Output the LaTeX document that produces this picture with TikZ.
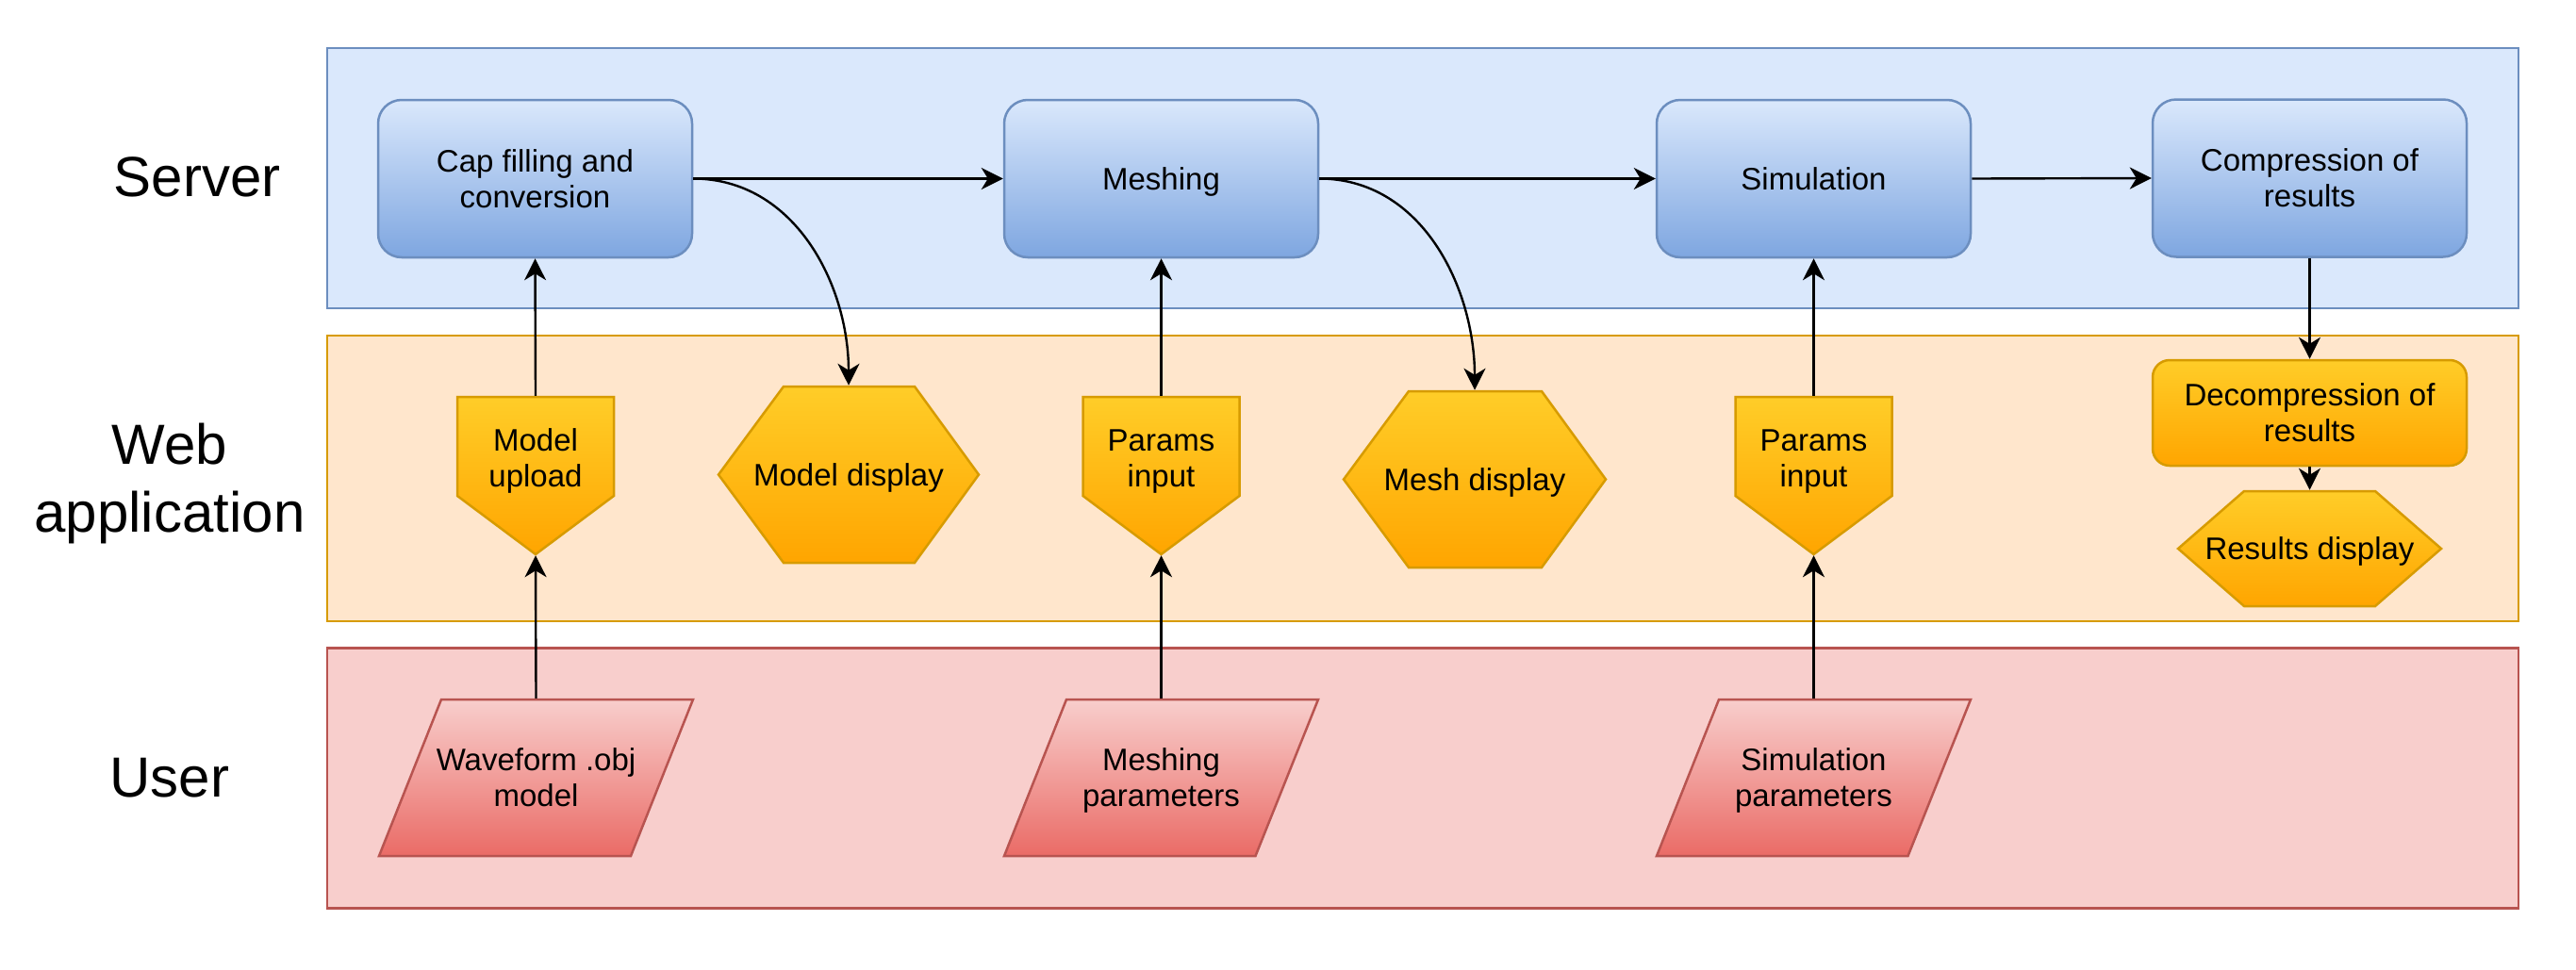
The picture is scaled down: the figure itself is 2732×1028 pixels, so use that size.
\documentclass[tikz,border=0pt]{standalone}
\usepackage{fontspec}
\setmainfont{Liberation Sans}
\usetikzlibrary{arrows.meta,calc}
\definecolor{srvfill}{HTML}{DAE8FC}
\definecolor{srvline}{HTML}{6C8EBF}
\definecolor{webfill}{HTML}{FFE6CC}
\definecolor{webline}{HTML}{D79B00}
\definecolor{usrfill}{HTML}{F8CECC}
\definecolor{usrline}{HTML}{B85450}
\definecolor{bluetop}{HTML}{DAE8FC}
\definecolor{bluebot}{HTML}{7EA6E0}
\definecolor{orgtop}{HTML}{FFCD28}
\definecolor{orgbot}{HTML}{FFA500}
\definecolor{redtop}{HTML}{F8CECC}
\definecolor{redbot}{HTML}{EA6B66}
\newcommand\zdp[1]{\raisebox{0pt}[\height][0pt]{#1}}
\begin{document}
\begin{tikzpicture}[x=1pt,y=-1pt,
  lanebox/.style={rectangle, line width=2.5pt, inner sep=0pt, minimum width=2324pt, minimum height=276pt},
  lanelabel/.style={font=\fontsize{60}{72}\selectfont, align=center, inner sep=0pt},
  txt/.style={font=\fontsize{33}{38}\selectfont, align=center, inner sep=0pt, text=black},
  srvbox/.style={txt, rectangle, rounded corners=25pt, draw=srvline, line width=2.5pt,
    top color=bluetop, bottom color=bluebot, minimum width=333pt, minimum height=167pt},
  orgbox/.style={txt, rectangle, rounded corners=18pt, draw=webline, line width=2.5pt,
    top color=orgtop, bottom color=orgbot, minimum width=333pt, minimum height=112pt},
  orgshape/.style={draw=webline, line width=2.5pt, top color=orgtop, bottom color=orgbot, line join=miter},
  redshape/.style={draw=usrline, line width=2.5pt, top color=redtop, bottom color=redbot, line join=miter},
  bbox/.style={txt, rectangle, draw=none, outer sep=1.25pt},
  conn/.style={draw=black, line width=2.4pt, -{Stealth[length=23pt,width=23pt,inset=7pt]}}
]
\useasboundingbox (0,0) rectangle (2732,1028);

% lanes
\node[lanebox, draw=srvline, fill=srvfill] (server) at (1509,189) {};
\node[lanebox, draw=webline, fill=webfill, minimum height=303pt] (web) at (1509,507.5) {};
\node[lanebox, draw=usrline, fill=usrfill] (user) at (1509,825.5) {};

% lane labels
\node[lanelabel] (lserver) at (209,188) {Server};
\node[lanelabel] (lweb) at (180,513) {Web\\application};
\node[lanelabel] (luser) at (180,825) {User};

% server boxes
\node[srvbox] (cap) at (567.5,189.5) {Cap filling and\\conversion};
\node[srvbox] (mesh) at (1231.5,189.5) {\zdp{Meshing}};
\node[srvbox] (sim) at (1923.5,189.5) {Simulation};
\node[srvbox] (comp) at (2449.5,189) {Compression of\\results};

% web application shapes
\shade[orgshape] (485,421) -- (651,421) -- (651,526) -- (568,588) -- (485,526) -- cycle;
\node[bbox, minimum width=166pt, minimum height=167pt] (upl) at (568,504.5) {};
\node[txt] (uplt) at (568,486) {Model\\\zdp{upload}};

\shade[orgshape] (1148.5,421) -- (1314.5,421) -- (1314.5,526) -- (1231.5,588) -- (1148.5,526) -- cycle;
\node[bbox, minimum width=166pt, minimum height=167pt] (pin1) at (1231.5,504.5) {};
\node[txt] (pin1t) at (1231.5,486) {Params\\\zdp{input}};

\shade[orgshape] (1840.5,421) -- (2006.5,421) -- (2006.5,526) -- (1923.5,588) -- (1840.5,526) -- cycle;
\node[bbox, minimum width=166pt, minimum height=167pt] (pin2) at (1923.5,504.5) {};
\node[txt] (pin2t) at (1923.5,486) {Params\\\zdp{input}};

\shade[orgshape] (831,410) -- (970,410) -- (1038,503.5) -- (970,597) -- (831,597) -- (762,503.5) -- cycle;
\node[bbox, minimum width=276pt, minimum height=187pt] (mdisp) at (900,503.5) {\zdp{Model display}};

\shade[orgshape] (1494,415) -- (1635,415) -- (1703,508.5) -- (1635,602) -- (1494,602) -- (1425,508.5) -- cycle;
\node[bbox, minimum width=278pt, minimum height=187pt] (meshdisp) at (1564,508.5) {\zdp{Mesh display}};

\node[orgbox] (decomp) at (2449.5,438) {Decompression of\\results};

\shade[orgshape] (2380,521) -- (2519,521) -- (2589,582) -- (2519,643) -- (2380,643) -- (2310,582) -- cycle;
\node[bbox, minimum width=279pt, minimum height=122pt] (rdisp) at (2449.5,582) {\zdp{Results display}};

% user shapes
\shade[redshape] (468,742) -- (735,742) -- (669,908) -- (402,908) -- cycle;
\node[bbox, minimum width=333pt, minimum height=166pt] (wf) at (568.5,825) {Waveform .obj\\model};

\shade[redshape] (1131,742) -- (1398,742) -- (1331.5,908) -- (1065,908) -- cycle;
\node[bbox, minimum width=333pt, minimum height=166pt] (mp) at (1231.5,825) {Meshing\\\zdp{parameters}};

\shade[redshape] (1823,742) -- (2090,742) -- (2023.5,908) -- (1757,908) -- cycle;
\node[bbox, minimum width=333pt, minimum height=166pt] (sp) at (1923.5,825) {Simulation\\\zdp{parameters}};

% connectors
\draw[conn] (wf.north) -- (upl.south);
\draw[conn] (upl.north) -- (cap.south);
\draw[conn] (mp.north) -- (pin1.south);
\draw[conn] (pin1.north) -- (mesh.south);
\draw[conn] (sp.north) -- (pin2.south);
\draw[conn] (pin2.north) -- (sim.south);
\draw[conn] (cap.east) -- (mesh.west);
\draw[conn] (mesh.east) -- (sim.west);
\draw[conn] (sim.east) -- (comp.west);
\draw[conn] (cap.east) to[out=0,in=90] (mdisp.north);
\draw[conn] (mesh.east) to[out=0,in=90] (meshdisp.north);
\draw[conn] (comp.south) -- (decomp.north);
\draw[conn] (decomp.south) -- (rdisp.north);
\end{tikzpicture}
\end{document}
